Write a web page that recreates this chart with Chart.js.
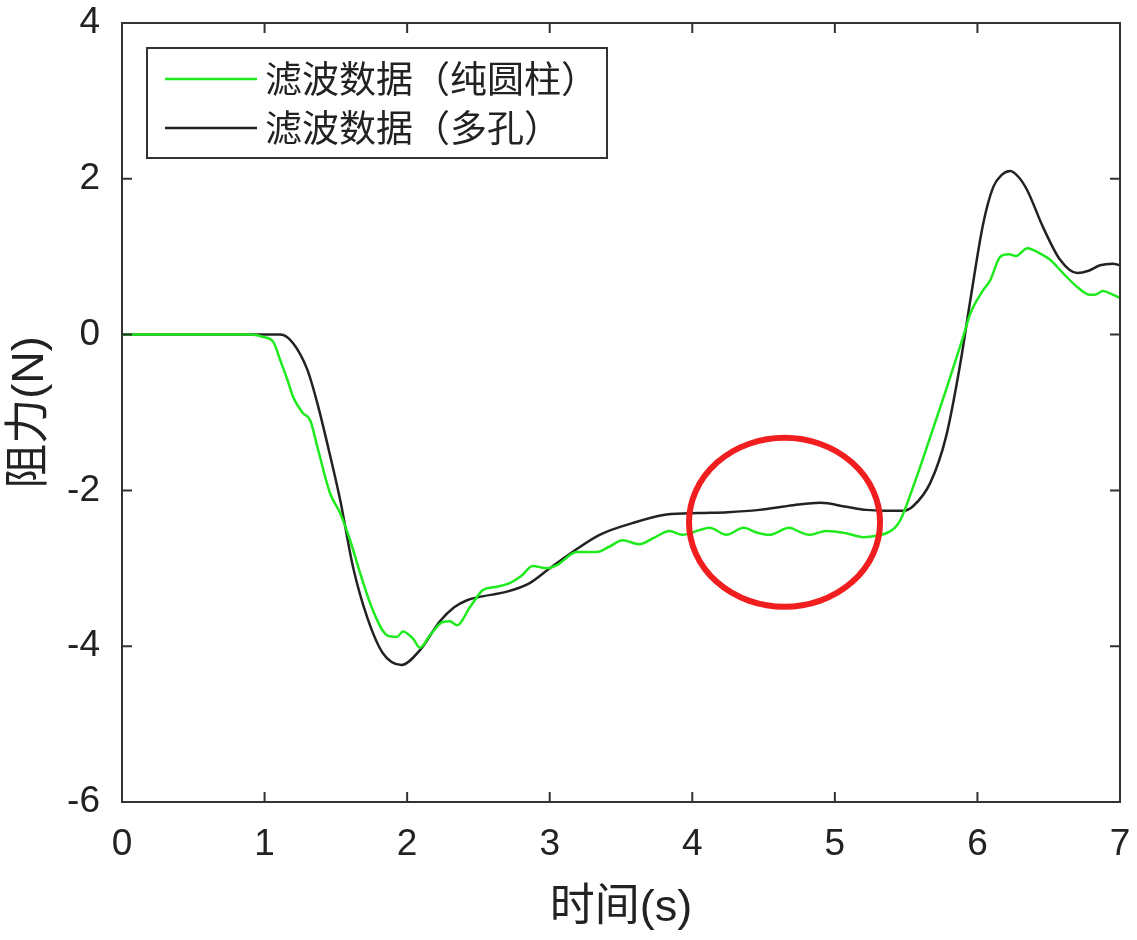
<!DOCTYPE html>
<html>
<head>
<meta charset="utf-8">
<script src="https://cdn.jsdelivr.net/npm/chart.js@4.4.1/dist/chart.umd.min.js"></script>
<style>
  html, body { margin: 0; padding: 0; background: #ffffff; }
  canvas { display: block; }
</style>
</head>
<body>
<canvas id="grafico-resistencia" width="1137" height="940"></canvas>
<script>
// dados: tempo (s) e força de resistência (N)
const tempoCilindro = [
  0, 0.5, 0.9, 0.99, 1.06, 1.11, 1.16, 1.2, 1.27, 1.32, 1.37, 1.46, 1.53, 1.6, 1.67,
  1.76, 1.86, 1.93, 1.97, 2.04, 2.09, 2.16, 2.25, 2.3, 2.35, 2.44, 2.49, 2.53, 2.62,
  2.72, 2.8, 2.88, 2.98, 3.05, 3.19, 3.33, 3.42, 3.51, 3.63, 3.73, 3.84, 3.93, 4.05,
  4.12, 4.24, 4.36, 4.45, 4.54, 4.68, 4.75, 4.82, 4.94, 5.08, 5.2, 5.3, 5.36, 5.42,
  5.46, 5.55, 5.67, 5.78, 5.9, 5.95, 6.04, 6.09, 6.16, 6.22, 6.27, 6.35, 6.44, 6.51,
  6.6, 6.7, 6.79, 6.84, 6.88, 6.93, 7.0,
];
const forcaCilindro = [
  0, 0, 0, -0.03, -0.09, -0.33, -0.58, -0.8, -1.01, -1.1, -1.44, -2.04, -2.29, -2.64, -3.06,
  -3.54, -3.86, -3.88, -3.81, -3.9, -4.02, -3.86, -3.69, -3.68, -3.73, -3.5, -3.37, -3.28, -3.24,
  -3.19, -3.1, -2.97, -3.0, -2.96, -2.79, -2.79, -2.72, -2.64, -2.69, -2.61, -2.52, -2.57, -2.51,
  -2.48, -2.57, -2.48, -2.54, -2.57, -2.48, -2.53, -2.57, -2.52, -2.55, -2.6, -2.58, -2.55, -2.48,
  -2.38, -1.95, -1.31, -0.71, -0.03, 0.27, 0.57, 0.7, 1.0, 1.03, 1.01, 1.11, 1.04, 0.96,
  0.79, 0.61, 0.51, 0.52, 0.56, 0.53, 0.47,
];

const tempoPoroso = [
  0, 0.5, 1.0, 1.11, 1.2, 1.3, 1.37, 1.44, 1.53, 1.62, 1.72, 1.83, 1.96, 2.09, 2.23,
  2.33, 2.42, 2.5, 2.7, 2.86, 3.0, 3.16, 3.35, 3.58, 3.82, 4.05, 4.25, 4.47, 4.71,
  4.9, 5.08, 5.22, 5.35, 5.48, 5.55, 5.67, 5.78, 5.88, 5.95, 6.04, 6.11, 6.17, 6.23,
  6.29, 6.35, 6.46, 6.58, 6.7, 6.78, 6.86, 6.95, 7.0,
];
const forcaPoroso = [
  0, 0, 0, 0, -0.11, -0.45, -0.88, -1.4, -2.12, -2.98, -3.63, -4.09, -4.24, -4.05, -3.68,
  -3.5, -3.41, -3.37, -3.3, -3.19, -3.0, -2.79, -2.57, -2.42, -2.31, -2.29, -2.28, -2.25, -2.19,
  -2.16, -2.21, -2.25, -2.26, -2.26, -2.2, -1.9, -1.31, -0.37, 0.44, 1.42, 1.89, 2.05, 2.1,
  2.02, 1.85, 1.38, 0.96, 0.79, 0.82, 0.89, 0.91, 0.89,
];

const rotulosSeries = ["滤波数据（纯圆柱）", "滤波数据（多孔）"];
const coresSeries = ["#1eea1e", "#222222"];
const tituloX = "时间(s)";
const tituloY = "阻力(N)";
const ticksX = [0, 1, 2, 3, 4, 5, 6, 7];
const ticksY = [-6, -4, -2, 0, 2, 4];

// elipse vermelha em coordenadas dos dados (centro e semi-eixos)
const elipseCentro = [4.647, -2.41];
const elipseRaios = [0.67, 1.085];

const FONTE = "'Liberation Sans', 'Noto Sans CJK SC', sans-serif";
const COR_EIXO = "#333333";

const paraPontos = (xs, ys) => xs.map((x, i) => ({ x, y: ys[i] }));

const molduraPlugin = {
  id: "moldura",
  afterDatasetsDraw(chart) {
    const { ctx, chartArea: a, scales } = chart;
    const sx = scales.x;
    const sy = scales.y;
    ctx.save();

    // elipse de destaque
    const cx = sx.getPixelForValue(elipseCentro[0]);
    const cy = sy.getPixelForValue(elipseCentro[1]);
    const rx = sx.getPixelForValue(elipseCentro[0] + elipseRaios[0]) - cx;
    const ry = cy - sy.getPixelForValue(elipseCentro[1] + elipseRaios[1]);
    ctx.beginPath();
    ctx.ellipse(cx, cy, rx, ry, 0, 0, Math.PI * 2);
    ctx.strokeStyle = "#f01e1e";
    ctx.lineWidth = 6;
    ctx.stroke();

    // caixa e marcas internas (estilo MATLAB)
    ctx.strokeStyle = COR_EIXO;
    ctx.lineWidth = 2;
    ctx.strokeRect(a.left, a.top, a.right - a.left, a.bottom - a.top);
    const tam = 10;
    ctx.beginPath();
    ticksX.forEach((v) => {
      const px = sx.getPixelForValue(v);
      ctx.moveTo(px, a.bottom);
      ctx.lineTo(px, a.bottom - tam);
      ctx.moveTo(px, a.top);
      ctx.lineTo(px, a.top + tam);
    });
    ticksY.forEach((v) => {
      const py = sy.getPixelForValue(v);
      ctx.moveTo(a.left, py);
      ctx.lineTo(a.left + tam, py);
      ctx.moveTo(a.right, py);
      ctx.lineTo(a.right - tam, py);
    });
    ctx.stroke();

    // legenda dentro da área do gráfico
    const lx = a.left + 25;
    const ly = a.top + 25;
    const lw = 460;
    const lh = 110;
    ctx.fillStyle = "#ffffff";
    ctx.fillRect(lx, ly, lw, lh);
    ctx.strokeStyle = COR_EIXO;
    ctx.lineWidth = 2;
    ctx.strokeRect(lx, ly, lw, lh);
    ctx.font = "37px 'Noto Sans CJK SC', sans-serif";
    ctx.textBaseline = "middle";
    ctx.textAlign = "left";
    chart.data.datasets.forEach((ds, i) => {
      const yy = ly + 31 + i * 49;
      ctx.beginPath();
      ctx.moveTo(lx + 18, yy);
      ctx.lineTo(lx + 110, yy);
      ctx.strokeStyle = ds.borderColor;
      ctx.lineWidth = ds.borderWidth;
      ctx.stroke();
      ctx.fillStyle = "#222222";
      ctx.fillText(ds.label, lx + 118, yy);
    });
    ctx.restore();
  },
};

const canvas = document.getElementById("grafico-resistencia");
new Chart(canvas.getContext("2d"), {
  type: "scatter",
  data: {
    datasets: [
      {
        label: rotulosSeries[0],
        data: paraPontos(tempoCilindro, forcaCilindro),
        showLine: true,
        borderColor: coresSeries[0],
        backgroundColor: coresSeries[0],
        borderWidth: 2.5,
        pointRadius: 0,
        cubicInterpolationMode: "monotone",
      },
      {
        label: rotulosSeries[1],
        data: paraPontos(tempoPoroso, forcaPoroso),
        showLine: true,
        borderColor: coresSeries[1],
        backgroundColor: coresSeries[1],
        borderWidth: 2.5,
        pointRadius: 0,
        cubicInterpolationMode: "monotone",
      },
    ],
  },
  options: {
    responsive: false,
    animation: false,
    layout: { padding: { top: 23, right: 17, left: 0, bottom: 0 } },
    plugins: {
      legend: { display: false },
      tooltip: { enabled: false },
    },
    scales: {
      x: {
        type: "linear",
        min: 0,
        max: 7,
        afterBuildTicks: (eixo) => { eixo.ticks = ticksX.map((v) => ({ value: v })); },
        afterFit: (eixo) => {
          eixo.height = 138;
          eixo.paddingLeft = 0;
          eixo.paddingRight = 0;
        },
        grid: { display: false },
        border: { display: false },
        ticks: {
          color: "#222222",
          font: { family: FONTE, size: 37 },
          padding: 13,
          maxRotation: 0,
        },
        title: {
          display: true,
          text: tituloX,
          color: "#222222",
          font: { family: FONTE, size: 45 },
          padding: { top: 2 },
        },
      },
      y: {
        type: "linear",
        min: -6,
        max: 4,
        afterBuildTicks: (eixo) => { eixo.ticks = ticksY.map((v) => ({ value: v })); },
        afterFit: (eixo) => {
          eixo.width = 122;
          eixo.paddingTop = 0;
          eixo.paddingBottom = 0;
        },
        grid: { display: false },
        border: { display: false },
        ticks: {
          color: "#222222",
          font: { family: FONTE, size: 37 },
          padding: 14,
        },
        title: {
          display: true,
          text: tituloY,
          color: "#222222",
          font: { family: FONTE, size: 45 },
          padding: { bottom: 0 },
        },
      },
    },
  },
  plugins: [molduraPlugin],
});
</script>
</body>
</html>
